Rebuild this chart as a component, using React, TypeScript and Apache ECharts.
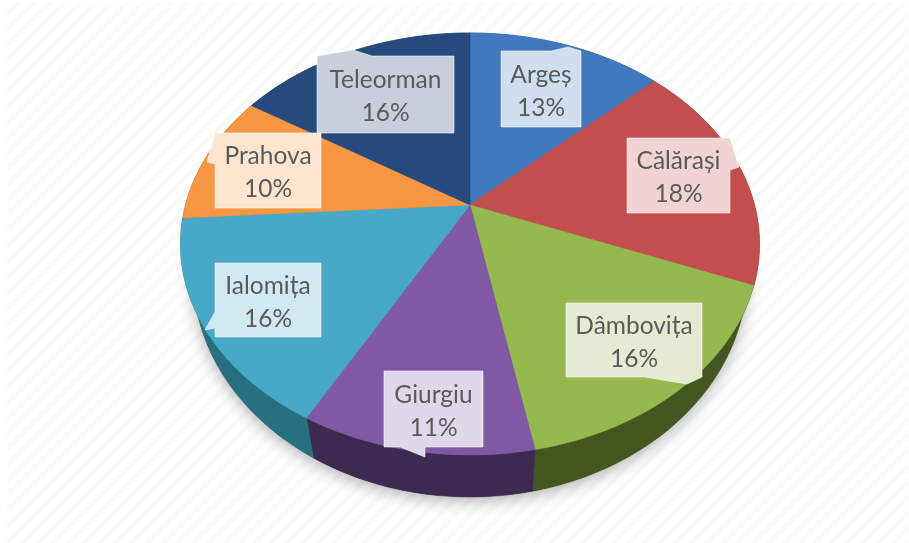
import React, { useEffect, useRef } from "react";
import * as echarts from "echarts";

// ---- data ----
const categories = ["Argeș", "Călărași", "Dâmbovița", "Giurgiu", "Ialomița", "Prahova", "Teleorman"];
const shares = [13, 18, 16, 11, 16, 10, 16];

// ---- styles ----
const topColors = ["#4279be", "#c24f4d", "#95b94f", "#8058a4", "#47a8c8", "#f79743", "#264a7d"];
const sideColors = ["#24426a", "#6b2a29", "#43561f", "#3d2a50", "#27707f", "#8a5222", "#142845"];
const boxColors = ["#d0deef", "#f0d3d2", "#e5ebd3", "#e0d8e9", "#d1e9f1", "#fde5cf", "#c8cfdb"];
const textColor = "#5a5a5a";

// ---- layout: perspective disc ----
const CX = 470, CY = 244, RX = 289.5, RY = 211;
const BCY = 274, BRX = 277, BRY = 223;
const C = -0.185; // apex offset of the disc centre in the unit ellipse

// box x0,y0,x1,y1 and the callout pointer as [a, tip, b], clockwise insertion on the outline
const boxes = [
  { b: [501, 51, 581, 127], edge: "top", p: [[551, 51], [568, 47], [581, 51]] },
  { b: [627, 138, 730, 213], edge: "right", p: [[730, 138], [739, 167], [730, 170]] },
  { b: [566, 303, 702, 377], edge: "bottom", p: [[702, 377], [687, 384], [645, 377]] },
  { b: [384, 371, 483, 447], edge: "bottom", p: [[425, 447], [425, 457], [400, 447]] },
  { b: [215, 263, 321, 337], edge: "left", p: [[215, 328], [205, 330], [215, 312]] },
  { b: [215, 133, 321, 208], edge: "left", p: [[215, 164], [207, 162], [215, 133]] },
  { b: [317, 56, 454, 133], edge: "top", p: [[317, 56], [353, 50], [372, 56]] },
];

const total = shares.reduce((a, b) => a + b, 0);
const starts: number[] = [];
shares.reduce((acc, v, i) => {
  starts[i] = acc;
  return acc + v;
}, 0);

function unit(share: number) {
  const t = (share / total) * Math.PI * 2;
  const x = Math.sin(t), y = -Math.cos(t);
  const d = 1 + C * y;
  return [(x * Math.sqrt(1 - C * C)) / d, (y + C) / d];
}
function rim(a: number, b: number) {
  const out: number[][] = [];
  const n = Math.max(8, Math.ceil(b - a) * 3);
  for (let i = 0; i <= n; i++) out.push(unit(a + ((b - a) * i) / n));
  return out;
}
const seriesData = shares.map((v, i) => ({ name: categories[i], value: [v, starts[i]] }));

function renderSide(_p: any, api: any) {
  const i = _p.dataIndex;
  const v = api.value(0), s = api.value(1);
  const r = rim(s, s + v);
  const pts = r.map(([x, y]) => [CX + x * RX, CY + y * RY]).concat(
    r.slice().reverse().map(([x, y]) => [CX + x * BRX, BCY + y * BRY])
  );
  return { type: "polygon", shape: { points: pts }, style: { fill: sideColors[i], stroke: sideColors[i], lineWidth: 0.5 } };
}
function renderTop(_p: any, api: any) {
  const i = _p.dataIndex;
  const v = api.value(0), s = api.value(1);
  const apex = [CX, CY + C * RY];
  const pts = [apex].concat(rim(s, s + v).map(([x, y]) => [CX + x * RX, CY + y * RY]));
  return { type: "polygon", shape: { points: pts }, style: { fill: topColors[i], stroke: topColors[i], lineWidth: 0.5 } };
}
function outline(i: number) {
  const { b, edge, p } = boxes[i];
  const [x0, y0, x1, y1] = b;
  const corners: Record<string, number[][]> = {
    top: [[x0, y0], ...p, [x1, y0], [x1, y1], [x0, y1]],
    right: [[x0, y0], ...p, [x1, y1], [x0, y1]],
    bottom: [[x0, y0], [x1, y0], [x1, y1], ...p, [x0, y1]],
    left: [[x0, y0], [x1, y0], [x1, y1], [x0, y1], ...p],
  };
  return corners[edge];
}
function renderLabel(_p: any, api: any) {
  const i = _p.dataIndex;
  const [x0, y0, x1, y1] = boxes[i].b;
  const mx = (x0 + x1) / 2, my = (y0 + y1) / 2;
  const font = { fontFamily: "Lato, Carlito, sans-serif", fontSize: 24.5, fill: textColor, align: "center", verticalAlign: "middle" };
  return {
    type: "group",
    children: [
      { type: "polygon", shape: { points: outline(i) }, style: { fill: boxColors[i], stroke: "rgba(255,255,255,0.55)", lineWidth: 1 } },
      { type: "text", style: { ...font, x: mx, y: my - 16, text: categories[i] } },
      { type: "text", style: { ...font, x: mx, y: my + 17, text: `${api.value(0)}%` } },
    ],
  };
}

export default function App() {
  const ref = useRef<HTMLDivElement>(null);
  useEffect(() => {
    document.body.style.margin = "0";
    const chart = echarts.init(ref.current!, undefined, { renderer: "svg" });
    chart.setOption({
      animation: false,
      backgroundColor: "transparent",
      graphic: [
        {
          type: "ellipse",
          z: 0,
          silent: true,
          shape: { cx: CX, cy: BCY, rx: BRX, ry: BRY },
          style: { fill: "#777", shadowBlur: 16, shadowColor: "rgba(0,0,0,0.3)", shadowOffsetY: 4 },
        },
      ],
      series: [
        { type: "custom", coordinateSystem: "none", name: "side", z: 1, silent: true, data: seriesData, renderItem: renderSide },
        { type: "custom", coordinateSystem: "none", name: "top", z: 2, silent: true, data: seriesData, renderItem: renderTop },
        { type: "custom", coordinateSystem: "none", name: "labels", z: 3, silent: true, data: seriesData, renderItem: renderLabel },
      ],
    });
    return () => chart.dispose();
  }, []);
  return (
    <div style={{ position: "relative", width: 909, height: 543, background: "#fff", overflow: "hidden" }}>
      <div
        style={{
          position: "absolute", left: 7, top: 3, right: 0, bottom: 0,
          background: "repeating-linear-gradient(135deg,#ffffff 0 4px,#fafafa 6px 9px,#ffffff 11px)",
        }}
      />
      <div ref={ref} style={{ position: "absolute", left: 0, top: 0, width: 909, height: 543, filter: "blur(0.7px)" }} />
    </div>
  );
}
